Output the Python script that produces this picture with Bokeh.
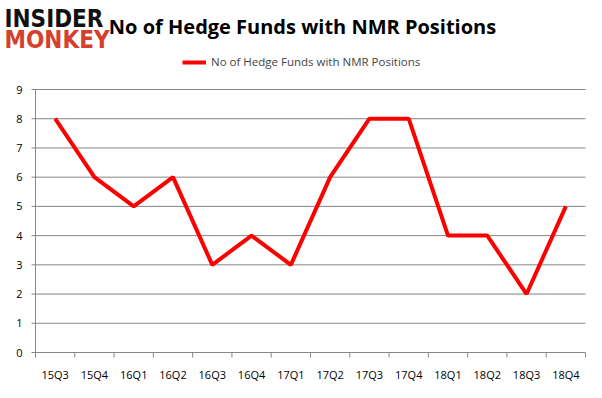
from bokeh.plotting import figure
from bokeh.models import (ColumnDataSource, Label, Legend, LegendItem, Range1d)
from bokeh.embed import file_html
from bokeh.resources import INLINE

quarters = ["15Q3", "15Q4", "16Q1", "16Q2", "16Q3", "16Q4", "17Q1", "17Q2",
            "17Q3", "17Q4", "18Q1", "18Q2", "18Q3", "18Q4"]
funds = [8, 6, 5, 6, 3, 4, 3, 6, 8, 8, 4, 4, 2, 5]
series_name = "No of Hedge Funds with NMR Positions"
y_ticks = list(range(0, 10))

# layout constants (pixels)
W, H = 586, 382
PLOT_L, PLOT_R, PLOT_T, PLOT_B = 35, 585, 89, 352
n = len(quarters)
px_per_x = (PLOT_R - PLOT_L) / n
px_per_y = (PLOT_B - PLOT_T) / max(y_ticks)
x_start = -PLOT_L / px_per_x
x_end = n + (W - PLOT_R) / px_per_x
y_start = -(H - PLOT_B) / px_per_y
y_end = PLOT_B / px_per_y

xpos = [i + 0.5 for i in range(n)]
src = ColumnDataSource(dict(x=xpos, y=funds, q=quarters))

p = figure(width=W, height=H, output_backend="svg", toolbar_location=None,
           x_range=Range1d(x_start, x_end), y_range=Range1d(y_start, y_end),
           x_axis_type=None, y_axis_type=None,
           min_border_left=0, min_border_right=0, min_border_top=0, min_border_bottom=0)
p.outline_line_color = None
p.background_fill_color = "white"
p.border_fill_color = "white"

FONT = "Open Sans"
AX = "#868686"

# y grid lines (with left tick marks), y axis line, y tick labels
ytick_len = 4 / px_per_x
ysrc = ColumnDataSource(dict(y=y_ticks, t=[str(v) for v in y_ticks]))
p.segment(x0=-ytick_len, x1=n, y0="y", y1="y", source=ysrc, line_color=AX, line_width=1)
p.segment(x0=0, x1=0, y0=min(y_ticks), y1=max(y_ticks), line_color=AX, line_width=1)
p.text(x=0, y="y", text="t", source=ysrc, x_offset=-13, text_align="right",
       text_baseline="middle", text_font={"value": FONT}, text_font_size="11px",
       text_color="#000000")

# x axis tick marks (between categories) and labels
xtick_len = 5 / px_per_y
p.segment(x0=list(range(n + 1)), x1=list(range(n + 1)), y0=0, y1=-xtick_len,
          line_color=AX, line_width=1)
p.text(x="x", y=0, text="q", source=src, y_offset=22, text_align="center",
       text_baseline="middle", text_font={"value": FONT}, text_font_size="11px",
       text_color="#000000")

r = p.line("x", "y", source=src, line_color="#ff0000", line_width=4)

legend = Legend(items=[LegendItem(label=series_name, renderers=[r])],
                location=(182, H - 69), orientation="horizontal",
                border_line_color=None, background_fill_alpha=0,
                label_text_font=FONT, label_text_font_size="11.5px",
                glyph_width=24, glyph_height=14, padding=0, margin=0, spacing=0,
                label_standoff=5, label_height=14)
p.add_layout(legend, "center")

title = Label(x=302, y=H - 26, x_units="screen", y_units="screen", text=series_name,
              text_font=FONT, text_font_size="20px", text_font_style="bold",
              text_align="center", text_baseline="middle", text_color="#000000")
p.add_layout(title)

logo1 = Label(x=4, y=H - 18, x_units="screen", y_units="screen", text="INSIDER",
              text_font="DejaVu Sans Condensed", text_font_size="24px", text_font_style="bold",
              text_color="#111111", text_baseline="middle")
logo2 = Label(x=4, y=H - 39, x_units="screen", y_units="screen", text="MONKEY",
              text_font="DejaVu Sans Condensed", text_font_size="24px", text_font_style="bold",
              text_color="#d4402b", text_baseline="middle")
p.add_layout(logo1)
p.add_layout(logo2)

open("out.html", "w").write(file_html(p, INLINE))
